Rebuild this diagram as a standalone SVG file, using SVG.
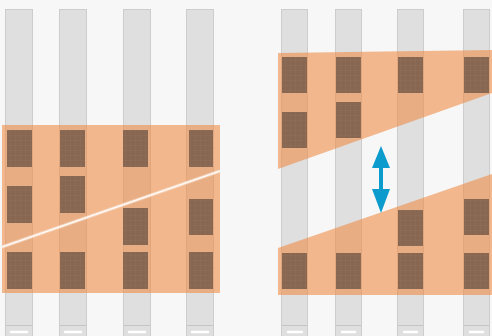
<svg xmlns="http://www.w3.org/2000/svg" width="492" height="336" viewBox="0 0 492 336">
  <defs>
    <pattern id="grid" width="5" height="5" patternUnits="userSpaceOnUse">
      <rect width="5" height="5" fill="#876752"/>
      <path d="M0 0.5H5M0.5 0V5" stroke="#8f6f58" stroke-width="0.5"/>
    </pattern>
    <style>
      .strip { fill: #dfdfdf; stroke: #cdcdcd; stroke-width: 1; }
      .foot { stroke: #c4c4c4; stroke-width: 1; }
      .dash { stroke: #ffffff; stroke-width: 2.5; stroke-linecap: round; }
      .band { fill: #ef8c46; fill-opacity: 0.6; }
      .chip { fill: url(#grid); }
      .arrow { fill: #0b9bcd; }
    </style>
  </defs>
  <rect width="492" height="336" fill="#f7f7f7"/>

  <g id="left-strips">
    <rect class="strip" x="5.5" y="9.5" width="27" height="330"/>
    <rect class="strip" x="59.5" y="9.5" width="27" height="330"/>
    <rect class="strip" x="123.5" y="9.5" width="27" height="330"/>
    <rect class="strip" x="186.5" y="9.5" width="27" height="330"/>
    <path class="foot" d="M6 325.5H32M60 325.5H86M124 325.5H150M187 325.5H213"/>
    <path class="dash" d="M11 332H27M65 332H81M129 332H145M192 332H208"/>
  </g>

  <g id="right-strips">
    <rect class="strip" x="281.5" y="9.5" width="26" height="330"/>
    <rect class="strip" x="335.5" y="9.5" width="26" height="330"/>
    <rect class="strip" x="397.5" y="9.5" width="26" height="330"/>
    <rect class="strip" x="463.5" y="9.5" width="26" height="330"/>
    <path class="foot" d="M282 325.5H307M336 325.5H361M398 325.5H423M464 325.5H489"/>
    <path class="dash" d="M288 332H302M342 332H355M404 332H417M470 332H483"/>
  </g>

  <g id="left-band">
    <rect class="band" x="2" y="125" width="218" height="168"/>
  </g>

  <g id="right-band-top">
    <polygon class="band" points="278,53 492,50 492,93 278,169"/>
  </g>
  <g id="right-band-bottom">
    <polygon class="band" points="278,248 492,174 492,295 278,295"/>
  </g>

  <g id="left-chips">
    <rect class="chip" x="7" y="130" width="25" height="37"/>
    <rect class="chip" x="60" y="130" width="25" height="37"/>
    <rect class="chip" x="123" y="130" width="25" height="37"/>
    <rect class="chip" x="189" y="130" width="24" height="37"/>
    <rect class="chip" x="7" y="186" width="25" height="37"/>
    <rect class="chip" x="60" y="176" width="25" height="37"/>
    <rect class="chip" x="123" y="208" width="25" height="37"/>
    <rect class="chip" x="189" y="199" width="24" height="36"/>
    <rect class="chip" x="7" y="252" width="25" height="37"/>
    <rect class="chip" x="60" y="252" width="25" height="37"/>
    <rect class="chip" x="123" y="252" width="25" height="37"/>
    <rect class="chip" x="189" y="252" width="24" height="37"/>
  </g>

  <g id="crack">
    <line x1="2" y1="247" x2="220" y2="171" stroke="#fbe6d4" stroke-width="3.5" stroke-opacity="0.5"/>
    <line x1="2" y1="247" x2="220" y2="171" stroke="#ffffff" stroke-width="1.6" stroke-opacity="0.9"/>
  </g>

  <g id="right-chips">
    <rect class="chip" x="282" y="57" width="25" height="36"/>
    <rect class="chip" x="336" y="57" width="25" height="36"/>
    <rect class="chip" x="398" y="57" width="25" height="36"/>
    <rect class="chip" x="464" y="57" width="25" height="36"/>
    <rect class="chip" x="282" y="112" width="25" height="36"/>
    <rect class="chip" x="336" y="102" width="25" height="36"/>
    <rect class="chip" x="398" y="210" width="25" height="36"/>
    <rect class="chip" x="464" y="199" width="25" height="36"/>
    <rect class="chip" x="282" y="253" width="25" height="36"/>
    <rect class="chip" x="336" y="253" width="25" height="36"/>
    <rect class="chip" x="398" y="253" width="25" height="36"/>
    <rect class="chip" x="464" y="253" width="25" height="36"/>
  </g>

  <g id="connectors">
    <rect class="arrow" x="379" y="166" width="4" height="25"/>
    <polygon class="arrow" points="381,146 390,168 372,168"/>
    <polygon class="arrow" points="381,213 390,189 372,189"/>
  </g>
</svg>
